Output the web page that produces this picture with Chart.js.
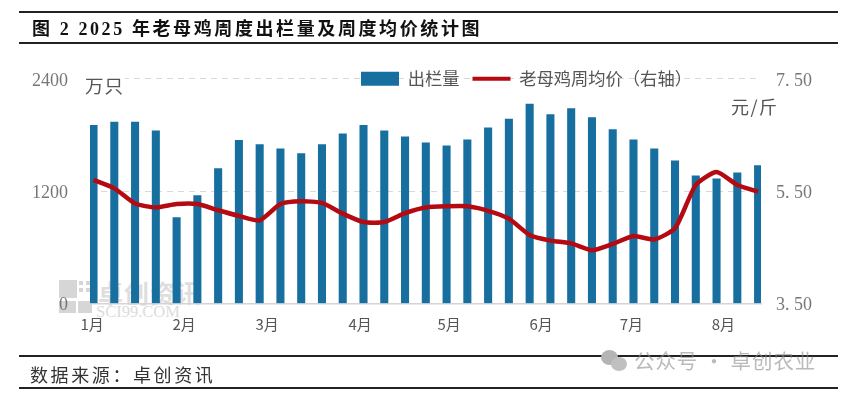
<!DOCTYPE html>
<html>
<head>
<meta charset="utf-8">
<title>图2</title>
<script src="https://cdn.jsdelivr.net/npm/chart.js@4/dist/chart.umd.min.js"></script>
<style>
  html, body { margin: 0; padding: 0; background: #fff; }
  #wrap { position: relative; width: 849px; height: 393px; overflow: hidden; font-family: "Noto Sans CJK SC", sans-serif; }
  #chart { position: absolute; left: 0; top: 0; z-index: 2; }
  .abs { position: absolute; white-space: nowrap; }
  .rule { position: absolute; left: 19px; width: 819px; height: 2px; background: #222; z-index: 1; }
  .wm { position: absolute; background: #d6d6d6; z-index: 1; }
</style>
</head>
<body>
<div id="wrap">
  <div class="rule" style="top:11px"></div>
  <div class="rule" style="top:42px"></div>
  <div class="rule" style="top:355px"></div>
  <div class="rule" style="top:387px"></div>

  <div class="abs" style="left:32px;top:16px;font:bold 18px/26px 'Liberation Serif','Noto Sans CJK SC';letter-spacing:2.6px;color:#111;z-index:3">图 2 2025 年老母鸡周度出栏量及周度均价统计图</div>
  <div class="abs" style="left:30px;top:361px;font:18px/26px 'Noto Sans CJK SC';letter-spacing:2.6px;color:#333;z-index:3">数据来源&#xFF1A;卓创资讯</div>

  <!-- sci99 watermark sits under the chart -->
  <div class="wm" style="left:59px;top:280px;width:18px;height:18px"></div>
  <div class="wm" style="left:59px;top:301px;width:17px;height:12px"></div>
  <div class="wm" style="left:78px;top:301px;width:14px;height:12px"></div>
  <div class="wm" style="left:79px;top:281px;width:4px;height:4px"></div>
  <div class="wm" style="left:86px;top:281px;width:4px;height:4px"></div>
  <div class="wm" style="left:79px;top:288px;width:4px;height:4px"></div>
  <div class="wm" style="left:86px;top:288px;width:4px;height:4px"></div>
  <div class="abs" style="left:98px;top:276px;font:bold 25px/32px 'Noto Sans CJK SC';letter-spacing:1px;color:#dedede;z-index:1">卓创资讯</div>
  <div class="abs" style="left:96px;top:303px;font:16.5px/18px 'Liberation Serif';color:#dcdcdc;z-index:1">SCI99.COM</div>

  <canvas id="chart" width="849" height="393"></canvas>

  <div class="abs" style="left:85px;top:73px;padding-right:1px;font:18.5px/24px 'Noto Sans CJK SC';letter-spacing:1px;color:#555;background:#fff;z-index:3">万只</div>
  <div class="abs" style="left:731px;top:94px;font:18px/24px 'Noto Sans CJK SC';letter-spacing:1.5px;color:#555;z-index:3">元/斤</div>

  <!-- wechat watermark on top -->
  <div class="abs" style="left:601px;top:350px;width:17px;height:15px;border-radius:50%;background:#b4b4b4;z-index:4"></div>
  <div class="abs" style="left:611px;top:357px;width:16px;height:14px;border-radius:50%;background:#c0c0c0;z-index:4"></div>
  <div class="abs" style="left:634px;top:345px;font:20.5px/30px 'Noto Sans CJK SC';letter-spacing:.9px;color:rgba(140,140,140,.6);z-index:4">公众号 · 卓创农业</div>
</div>

<script>
// weekly slaughter volume, 万只
const volume = [1904, 1939, 1939, 1843, 919, 1154, 1442, 1744, 1698, 1651, 1602, 1698,
  1811, 1904, 1843, 1779, 1715, 1683, 1747, 1875, 1971, 2131, 2018, 2082,
  1986, 1858, 1747, 1651, 1523, 1363, 1331, 1395, 1474];

// weekly average price, 元/斤
const price = [5.70, 5.55, 5.28, 5.21, 5.27, 5.27, 5.16, 5.06, 4.98, 5.27, 5.32, 5.29,
  5.10, 4.95, 4.95, 5.11, 5.21, 5.23, 5.23, 5.15, 5.01, 4.72, 4.62, 4.57,
  4.45, 4.56, 4.70, 4.64, 4.84, 5.61, 5.84, 5.61, 5.49];

// month labels and the week each one falls on
const monthLabels = ['1月', '2月', '3月', '4月', '5月', '6月', '7月', '8月'];
const monthWeeks = [-0.07, 4.36, 8.36, 12.84, 17.12, 21.55, 25.9, 30.33];

const leftTicks = [0, 1200, 2400];
const rightTicks = [3.5, 5.5, 7.5];

const barColor = '#176f9f';
const lineColor = '#b50a12';
const volumeName = '出栏量';
const priceName = '老母鸡周均价\uFF08右轴\uFF09';
const numFont = { family: "'Liberation Serif'", size: 18 };

// legend sits on top of the 2400 gridline, so move it after layout
const legendMover = {
  id: 'legendMover',
  afterLayout(chart) {
    const lg = chart.legend;
    const h = lg.bottom - lg.top;
    lg.left = 348;
    lg.right = 720;
    lg.top = 57;
    lg.bottom = 57 + h;
  }
};

const chart = new Chart(document.getElementById('chart').getContext('2d'), {
  data: {
    datasets: [
      {
        type: 'line',
        label: priceName,
        data: price.map((v, i) => ({ x: i, y: v })),
        yAxisID: 'yRight',
        borderColor: lineColor,
        backgroundColor: lineColor,
        borderWidth: 4.5,
        pointRadius: 0,
        tension: 0.2,
        order: 1
      },
      {
        type: 'bar',
        label: volumeName,
        data: volume.map((v, i) => ({ x: i, y: v })),
        yAxisID: 'yLeft',
        backgroundColor: barColor,
        barThickness: 7.4,
        order: 2
      }
    ]
  },
  options: {
    responsive: false,
    animation: false,
    devicePixelRatio: 1,
    layout: { padding: { top: 38.5, left: 0, right: 0, bottom: 0 } },
    plugins: {
      tooltip: { enabled: false },
      legend: {
        position: 'top',
        align: 'start',
        labels: {
          usePointStyle: true,
          pointStyleWidth: 38,
          boxHeight: 14,
          padding: 13,
          color: '#555',
          font: { family: "'Noto Sans CJK SC'", size: 17.3 },
          generateLabels() {
            return [
              { text: volumeName, fillStyle: barColor, strokeStyle: barColor, lineWidth: 0, pointStyle: 'rect', datasetIndex: 1, fontColor: '#555' },
              { text: priceName, fillStyle: lineColor, strokeStyle: lineColor, lineWidth: 4, pointStyle: 'line', datasetIndex: 0, fontColor: '#555' }
            ];
          }
        }
      }
    },
    scales: {
      x: {
        type: 'linear',
        offset: false,
        min: -0.17,
        max: 32.14,
        grid: { display: false, drawTicks: false },
        border: { display: true, color: '#d4d4d4', width: 1.5 },
        afterFit(s) { s.height = 89.5; },
        afterBuildTicks(s) { s.ticks = monthWeeks.map(v => ({ value: v })); },
        ticks: {
          autoSkip: false,
          maxRotation: 0,
          padding: 12,
          color: '#555',
          font: { family: "'Noto Sans CJK SC'", size: 15 },
          callback: (v, i) => monthLabels[i]
        }
      },
      yLeft: {
        type: 'linear',
        position: 'left',
        min: 0,
        max: 2400,
        afterFit(s) { s.width = 90; },
        afterBuildTicks(s) { s.ticks = leftTicks.map(v => ({ value: v })); },
        grid: { color: '#d9d9d9', drawTicks: false },
        border: { display: false, dash: [6, 5] },
        ticks: { padding: 22, labelOffset: 2, color: '#777', font: numFont, callback: v => String(v) }
      },
      yRight: {
        type: 'linear',
        position: 'right',
        min: 3.5,
        max: 7.5,
        afterFit(s) { s.width = 88; },
        afterBuildTicks(s) { s.ticks = rightTicks.map(v => ({ value: v })); },
        grid: { display: false, drawTicks: false },
        border: { display: false },
        ticks: {
          padding: 15,
          labelOffset: 2,
          color: '#777',
          font: numFont,
          callback: v => v.toFixed(2).replace('.', '. ')
        }
      }
    }
  },
  plugins: [legendMover]
});
</script>
</body>
</html>
